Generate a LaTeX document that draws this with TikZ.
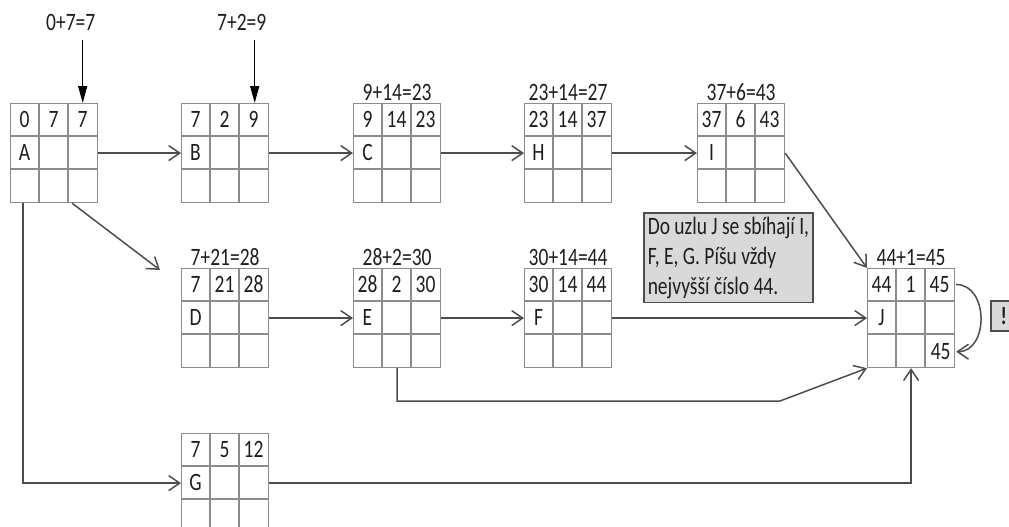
\documentclass[tikz,border=0pt]{standalone}
\usepackage{fontspec}
\setmainfont{Carlito}[FakeStretch=0.78]
\usetikzlibrary{positioning,calc,arrows.meta}
\definecolor{sitSeda}{HTML}{8C8C8C}
\definecolor{sitTmava}{HTML}{4D4D4D}
\definecolor{sitVypln}{HTML}{D9D9D9}
\definecolor{sitText}{HTML}{1E1E1E}
\tikzset{
  uzel/.style={draw=sitSeda, line width=1.2pt, minimum width=87pt, minimum height=99pt, inner sep=0pt, anchor=north west},
  mriz/.style={sitSeda, line width=1.2pt},
  sipka/.style={sitTmava, line width=1.5pt, -{Straight Barb[length=11pt,width=15pt]}},
  pridej/.style={black, line width=1.4pt, -{Triangle[length=17pt,width=9pt]}},
  popis/.style={inner sep=2pt},
  poznamka/.style={draw=sitTmava, fill=sitVypln, line width=1.5pt, align=left, anchor=north west, inner sep=4pt, font=\fontsize{25}{30}\selectfont}
}
\begin{document}
\begin{tikzpicture}[x=1pt, y=-1pt, font=\fontsize{25}{30}\selectfont, every node/.style={text=sitText}]
    \path[use as bounding box, clip] (0,0) rectangle (1009,527);
    % uzly site: jmeno / poloha / zacatek / trvani / konec
    \foreach \uz/\px/\py/\zac/\trv/\kon in {
        A/10/103/0/7/7,
        B/181/103/7/2/9,
        C/353/103/9/14/23,
        H/524/103/23/14/37,
        I/697/103/37/6/43,
        D/181/268/7/21/28,
        E/353/268/28/2/30,
        F/524/268/30/14/44,
        G/181/433/7/5/12,
        J/867/268/44/1/45} {
      \node[uzel] (\uz) at (\px,\py) {};
      \draw[mriz] (\uz.north west) ++(29,0) -- ++(0,99) ++(29,0) -- ++(0,-99);
      \draw[mriz] (\uz.north west) ++(0,33) -- ++(87,0) ++(0,33) -- ++(-87,0);
      \path (\uz.north west) ++(14.5,16.5) node {\zac} ++(29,0) node {\trv} ++(29,0) node {\kon}
            (\uz.north west) ++(14.5,49.5) node {\uz};
    }
    \node (J45) at ($(J.south east)+(-14.5,-16.5)$) {45};
    % soucty nad uzly
    \foreach \uz/\txt in {C/9+14=23, H/23+14=27, I/37+6=43, D/7+21=28, E/28+2=30, F/30+14=44, J/44+1=45}
      \node[popis, above=0pt of \uz] (l\uz) {\txt};
    % vstupy shora
    \coordinate (hA) at ($(A.north east)+(-15.5,-63)$);
    \coordinate (hB) at ($(B.north east)+(-14.5,-63)$);
    \node[popis] (lA) at ($(hA)+(-12,-18)$) {0+7=7};
    \node[popis] (lB) at ($(hB)+(-13,-18)$) {7+2=9};
    \draw[pridej] (hA) -- (hA |- A.north);
    \draw[pridej] (hB) -- (hB |- B.north);
    % hrany
    \draw[sipka] (A.east) -- (B.west);
    \draw[sipka] (B.east) -- (C.west);
    \draw[sipka] (C.east) -- (H.west);
    \draw[sipka] (H.east) -- (I.west);
    \draw[sipka] (I.east) -- (J.north west);
    \draw[sipka] (D.east) -- (E.west);
    \draw[sipka] (E.east) -- (F.west);
    \draw[sipka] (F.east) -- (J.west);
    \coordinate (cD) at ($(D.north west)+(-21,2)$);
    \draw[sipka] ($(A.south)+(18,0)$) -- (cD);
    \draw[sipka] ($(A.south west)+(13,0)$) |- (G.west);
    \coordinate (zlomE) at (780,401);
    \draw[sipka] (E.south) |- (zlomE) -- (J.south west);
    \draw[sipka] (G.east) -| (J.south);
    \draw[sipka] ($(J.north east)+(1,16.5)$) to[out=0, in=0, looseness=1.25] ($(J.south east)+(1,-16.5)$);
    % poznamka
    \node[poznamka] (pozn) at (643,212) {Do uzlu J se sbíhají I,\\F, E, G. Píšu vždy\\nejvyšší číslo 44.};
    \node[draw=sitTmava, fill=sitVypln, line width=1.5pt, minimum width=26pt, minimum height=30pt,
          anchor=north west, font=\bfseries\fontsize{25}{30}\selectfont] (vykric) at (990,300) {!};
\end{tikzpicture}
\end{document}
